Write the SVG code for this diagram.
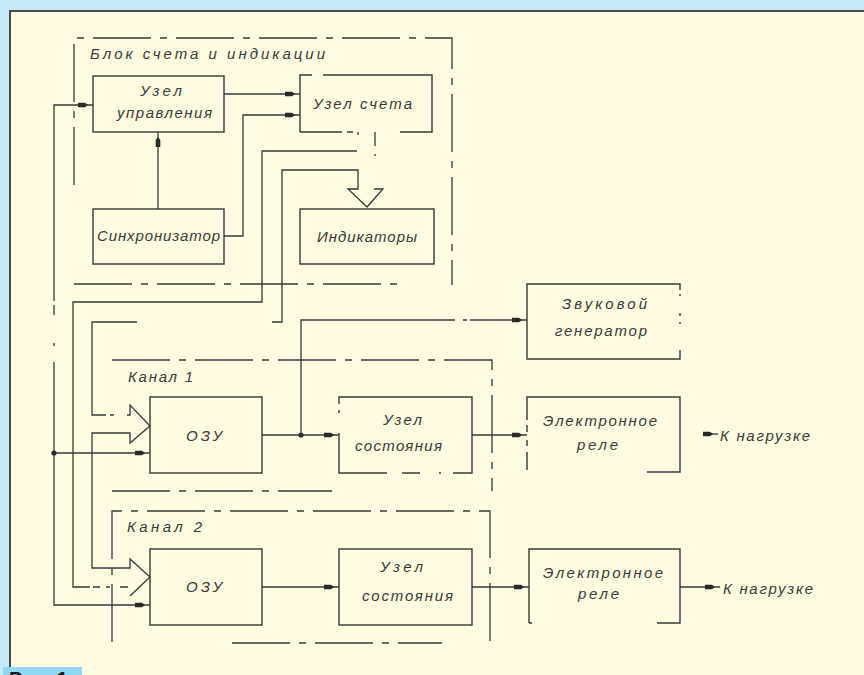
<svg xmlns="http://www.w3.org/2000/svg" width="864" height="675" viewBox="0 0 864 675">
<defs>
<style>
.ln{fill:none;stroke:#383838;stroke-width:1.3}
.fr{fill:none;stroke:#383838;stroke-width:1.3;stroke-dasharray:58 9 7 9}
.bx{fill:none;stroke:#383838;stroke-width:1.4}
.t{font-family:"Liberation Sans","DejaVu Sans",sans-serif;font-style:italic;font-size:15px;fill:#3a3a3a}
.arw{marker-end:url(#a)}
</style>
<marker id="a" markerUnits="userSpaceOnUse" markerWidth="16" markerHeight="8" viewBox="0 -4 16 8" refX="15" refY="0" orient="auto">
<path d="M0,-2.3 L7,-2.3 L10,0 L7,2.3 L0,2.3 Z" fill="#2a2a2a"/>
</marker>
</defs>
<rect x="0" y="0" width="864" height="675" fill="#c5e9f9"/>
<rect x="10" y="11" width="860" height="670" fill="#fffbe0" stroke="#4a4a4a" stroke-width="2"/>

<g id="frames">
<path class="fr" d="M74,185 V38 H452 V285"/>
<path class="fr" d="M74,284 H403"/>
<path class="fr" d="M112,360 H492 V491"/>
<path class="fr" d="M112,491 H332"/>
<path class="fr" d="M112,642 V511 H490 V642"/>
<path class="fr" d="M232,643 H442"/>
<text class="t" x="90" y="59" textLength="235" lengthAdjust="spacing">Блок счета и индикации</text>
<text class="t" x="128" y="382" textLength="65" lengthAdjust="spacing">Канал 1</text>
<text class="t" x="127" y="532" textLength="75" lengthAdjust="spacing">Канал 2</text>
</g>

<g id="n-upr">
<rect class="bx" x="93" y="76" width="131" height="56"/>
<text class="t" x="140" y="96" textLength="42" lengthAdjust="spacing">Узел</text>
<text class="t" x="117" y="118" textLength="95" lengthAdjust="spacing">управления</text>
</g>

<g id="n-schet">
<path class="bx" d="M300,132 V75 H312 M323,75 H432 V132 H400 M353,132 H347 M342,132 H300"/>
<text class="t" x="313" y="109" textLength="99" lengthAdjust="spacing">Узел счета</text>
</g>

<g id="n-sync">
<rect class="bx" x="93" y="209" width="131" height="55"/>
<text class="t" x="97" y="241" textLength="123" lengthAdjust="spacing">Синхронизатор</text>
</g>

<g id="n-ind">
<rect class="bx" x="300" y="209" width="134" height="55"/>
<text class="t" x="317" y="242" textLength="100" lengthAdjust="spacing">Индикаторы</text>
</g>

<g id="n-zvuk">
<path class="bx" d="M680,350 V359 H527 V284 H680 V290 M680,294 V296 M680,313 V316 M680,322 V324"/>
<text class="t" x="562" y="309" textLength="85" lengthAdjust="spacing">Звуковой</text>
<text class="t" x="555" y="336" textLength="92" lengthAdjust="spacing">генератор</text>
</g>

<g id="n-ozu1">
<rect class="bx" x="150" y="397" width="112" height="76"/>
<text class="t" x="186" y="441" textLength="36" lengthAdjust="spacing">ОЗУ</text>
</g>

<g id="n-sost1">
<path class="bx" d="M339,433 V473 H387 M402,473 H420 M439,473 H441 M453,473 H472 V397 H339 V404 M339,410 V413"/>
<text class="t" x="383" y="425" textLength="39" lengthAdjust="spacing">Узел</text>
<text class="t" x="355" y="451" textLength="87" lengthAdjust="spacing">состояния</text>
</g>

<g id="n-rele1">
<path class="bx" d="M527,420 V397 H680 V472 H647 M527,425 V432 M527,440 V446 M527,452 V470"/>
<text class="t" x="543" y="426" textLength="114" lengthAdjust="spacing">Электронное</text>
<text class="t" x="577" y="450" textLength="41" lengthAdjust="spacing">реле</text>
</g>

<g id="n-load1">
<text class="t" x="720" y="441" textLength="90" lengthAdjust="spacing">К нагрузке</text>
</g>

<g id="n-ozu2">
<rect class="bx" x="150" y="549" width="112" height="76"/>
<text class="t" x="186" y="592" textLength="36" lengthAdjust="spacing">ОЗУ</text>
</g>

<g id="n-sost2">
<rect class="bx" x="339" y="549" width="133" height="76"/>
<text class="t" x="380" y="572" textLength="43" lengthAdjust="spacing">Узел</text>
<text class="t" x="362" y="601" textLength="91" lengthAdjust="spacing">состояния</text>
</g>

<g id="n-rele2">
<path class="bx" d="M529,623 V549 H680 V623 H657 M529,623 H532"/>
<text class="t" x="543" y="578" textLength="120" lengthAdjust="spacing">Электронное</text>
<text class="t" x="578" y="599" textLength="41" lengthAdjust="spacing">реле</text>
</g>

<g id="n-load2">
<text class="t" x="723" y="594" textLength="90" lengthAdjust="spacing">К нагрузке</text>
</g>

<g id="connectors">
<path class="ln arw" d="M54,301 V105 H93"/>
<path class="ln" d="M54,305 V315 M54,343 V346"/>
<path class="ln arw" d="M54,362 V605 H150"/>
<path class="ln arw" d="M54,453 H150"/>
<circle cx="54" cy="453" r="2.6" fill="#2a2a2a"/>
<path class="ln arw" d="M158,209 V132"/>
<path class="ln arw" d="M224,94 H300"/>
<path class="ln arw" d="M224,236 H243 V115 H300"/>
<path class="ln" d="M358,132 V135 M375,132 V146 M375,154 V156"/>
<path class="ln" d="M374,189 H383 L367,207 L348,189 H358 V170 H282 V322 H272 M137,322 H92 V415 H106 M110,415 H114 M127,415 H130 V405 L150,426 L130,443 V433 H92 V568 H130 V559 L150,577 L130,596 M128,587 H120 M110,587 H106 M100,587 H93 M90,587 H73 V302 H262 V151 H357"/>
<path class="ln arw" d="M262,435 H339"/>
<circle cx="301" cy="435" r="2.6" fill="#2a2a2a"/>
<path class="ln arw" d="M301,435 V320 H455 M463,320 H467 M470,320 H527"/>
<path class="ln arw" d="M472,435 H527"/>
<path class="ln arw" d="M703,434 H718"/>
<path class="ln arw" d="M262,587 H339"/>
<path class="ln arw" d="M472,587 H529"/>
<path class="ln arw" d="M680,587 H720"/>
</g>

<g id="caption">
<rect x="3" y="667" width="79" height="10" fill="#8fd7f4"/>
<text x="9" y="686" font-family="Liberation Sans, sans-serif" font-weight="bold" font-size="20" fill="#1a1a1a">Рис. 1</text>
</g>
</svg>
